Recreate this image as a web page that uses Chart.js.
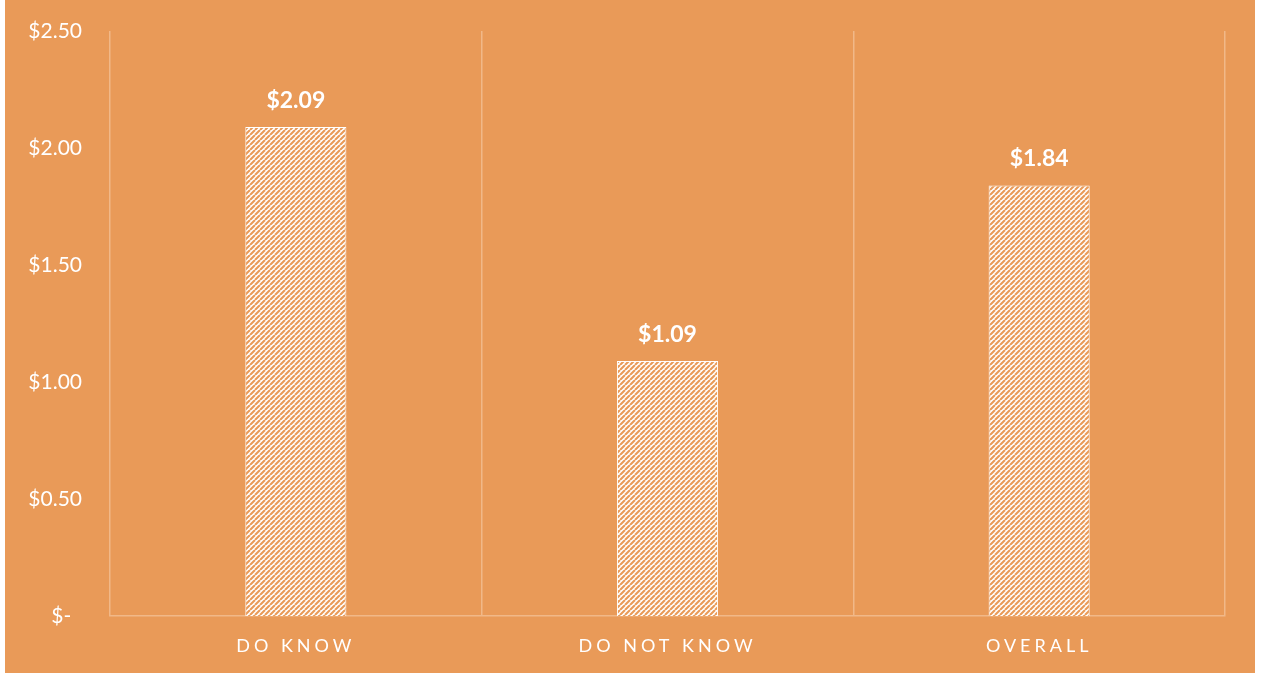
<!DOCTYPE html>
<html>
<head>
<meta charset="utf-8">
<script src="https://cdn.jsdelivr.net/npm/chart.js@4/dist/chart.umd.min.js"></script>
<style>
  body { margin: 0; background: #fff; }
  #wrap { position: absolute; left: 5px; top: 0; width: 1250px; height: 673px; background: #E99A58; }
</style>
</head>
<body>
<div id="wrap"><canvas id="chart"></canvas></div>
<script>
// data
const categories = ['DO KNOW', 'DO NOT KNOW', 'OVERALL']
const values = [2.09, 1.09, 1.84]
const yTicks = [0, 0.5, 1, 1.5, 2, 2.5]

const BG = '#E99A58'
const GRID = '#F1B888'
const FONT = 'Lato, "Open Sans", sans-serif'

// white/orange diagonal hatch, like the Excel pattern fill
function makePattern(){
  const n = 5
  const c = document.createElement('canvas')
  c.width = n; c.height = n
  const g = c.getContext('2d')
  g.fillStyle = '#fff'
  g.fillRect(0, 0, n, n)
  g.strokeStyle = BG
  g.lineWidth = 2.1
  g.beginPath()
  for (const o of [-n, 0, n]) { g.moveTo(o, n); g.lineTo(o + n, 0) }
  g.stroke()
  return g.createPattern(c, 'repeat')
}

function money(v){
  return v === 0 ? '$-  ' : '$' + v.toFixed(2)
}

// value labels above the bars
const valueLabels = {
  id: 'valueLabels',
  afterDatasetsDraw(chart){
    const ctx = chart.ctx
    const meta = chart.getDatasetMeta(0)
    ctx.save()
    ctx.fillStyle = '#fff'
    ctx.font = 'bold 23px ' + FONT
    ctx.textAlign = 'center'
    ctx.textBaseline = 'bottom'
    meta.data.forEach((bar, i)=>{
      ctx.fillText(money(values[i]), bar.x, bar.y - 15)
    })
    ctx.restore()
  }
}

// spaced capitals on the category axis
const spacedX = {
  id: 'spacedX',
  afterLayout(chart){
    const s = chart.scales.x
    if(s._spaced) return
    const orig = s.drawLabels.bind(s)
    s.drawLabels = function(area){
      chart.ctx.save()
      chart.ctx.letterSpacing = '4px'
      orig(area)
      chart.ctx.restore()
    }
    s._spaced = true
  }
}

new Chart(document.getElementById('chart'), {
  type: 'bar',
  data: {
    labels: categories,
    datasets: [{
      data: values,
      backgroundColor: makePattern(),
      borderColor: '#fff',
      borderWidth: 1,
      categoryPercentage: 1,
      barPercentage: 0.272,
    }]
  },
  options: {
    responsive: true,
    maintainAspectRatio: false,
    animation: false,
    layout: { padding: { top: 31, right: 30, bottom: 0, left: 0 } },
    plugins: { legend: { display: false }, tooltip: { enabled: false } },
    scales: {
      x: {
        afterFit(scale){ scale.height = 57 },
        grid: { display: true, offset: true, drawTicks: false, color: GRID, lineWidth: 1.5 },
        border: { display: true, color: GRID, width: 1.5 },
        ticks: { color: '#fff', font: { family: FONT, size: 18 }, padding: 19 },
      },
      y: {
        min: 0, max: 2.5,
        afterBuildTicks(scale){ scale.ticks = yTicks.map(v=>({ value: v })) },
        afterFit(scale){ scale.width = 105; scale.paddingTop = 0; scale.paddingBottom = 0 },
        grid: { display: false, drawTicks: false },
        border: { display: false },
        ticks: { color: '#fff', font: { family: FONT, size: 21 }, padding: 28, callback: v=>money(v) },
      }
    }
  },
  plugins: [valueLabels, spacedX]
})
</script>
</body>
</html>
